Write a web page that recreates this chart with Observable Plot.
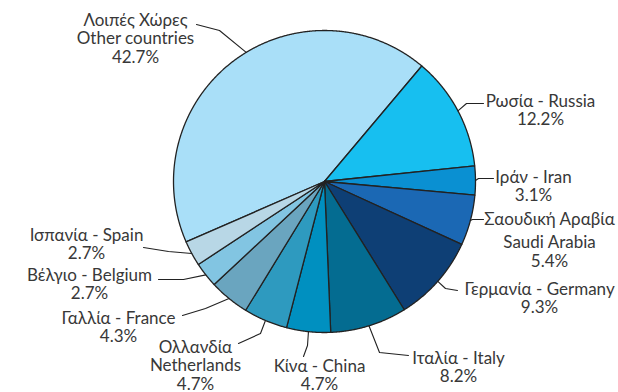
<!DOCTYPE html>
<html><head><meta charset="utf-8">
<script src="https://cdn.jsdelivr.net/npm/d3@7"></script>
<script src="https://cdn.jsdelivr.net/npm/@observablehq/plot@0.6"></script>
<style>
body{margin:0;background:#fff;}
#chart svg{font-family:Lato,"Noto Sans",sans-serif;}
</style>
</head><body><div id="chart"></div>
<script>
// ---- data ----
const names   = ["Other countries","Russia","Iran","Saudi Arabia","Germany","Italy","China","Netherlands","France","Belgium","Spain"];
const greek   = ["Λοιπές Χώρες","Ρωσία","Ιράν","Σαουδική Αραβία","Γερμανία","Ιταλία","Κίνα","Ολλανδία","Γαλλία","Βέλγιο","Ισπανία"];
const shares  = [42.7,12.2,3.1,5.4,9.3,8.2,4.7,4.7,4.3,2.7,2.7];
const stacked = [true,false,false,true,false,false,false,true,false,false,false]; // label on separate lines
// ---- styles / layout ----
const colors  = ["#a9dff8","#17bff0","#0a90d2","#1b68b4","#0e3f75","#046c91","#0090c0","#2e9abf","#6aa5bf","#82c5e2","#b8d7e6"];
const startDeg = -113.6;
const CX = 324, CY = 181, R = 151;
// label centre x, first-line y, extra gap after first line (pixels)
const labelPos = [[135,20,0],[540,101,0],[533,177,0],[549,219,5],[539,289,0],[458,358,0],[319,366,0],[195,347,0],[118,318,0],[89,275,0],[86,235,0]];
// leader start angle offset (deg), elbow and end (pixels)
const leaderOffset = [5.5,0,0,0,0,0,0,0,0,0,0];
const leaders = [[[219,30],[196,24]],[[466,103],[483,103]],[[478,178],[493,178]],[[472,219],[483,219]],[[445,288],[457,290]],
                 [[379,352],[408,355]],[[307,345],[303,356]],[[260,333],[238,343]],[[205,308],[182,315]],[[183,279],[158,279]],[[168,251],[143,247]]];
const LINE = 18.3;
const toX = p => (p - CX) / R, toY = p => (CY - p) / R;

const pie = d3.pie().sort(null).value(d => d)
  .startAngle(startDeg * Math.PI / 180).endAngle(startDeg * Math.PI / 180 + 2 * Math.PI)(shares);

const slicePts = [];
pie.forEach((a, i) => {
  slicePts.push({name: names[i], x: 0, y: 0});
  const n = Math.max(2, Math.ceil((a.endAngle - a.startAngle) / 0.005));
  for (let k = 0; k <= n; k++) {
    const t = a.startAngle + (a.endAngle - a.startAngle) * k / n;
    slicePts.push({name: names[i], x: Math.sin(t), y: Math.cos(t)});
  }
  slicePts.push({name: names[i], x: 0, y: 0});
});

const leaderPts = [];
pie.forEach((a, i) => {
  const m = (a.startAngle + a.endAngle) / 2 + leaderOffset[i] * Math.PI / 180;
  leaderPts.push({k: i, x: Math.sin(m), y: Math.cos(m)});
  leaders[i].forEach(p => leaderPts.push({k: i, x: toX(p[0]), y: toY(p[1])}));
});

const textRows = [];
names.forEach((n, i) => {
  const pct = shares[i].toFixed(1) + "%";
  const lines = stacked[i] ? [greek[i], n, pct] : [greek[i] + " - " + n, pct];
  const [lx, ly, gap] = labelPos[i];
  lines.forEach((t, j) => textRows.push({t, x: toX(lx), y: toY(ly + j * LINE + (j > 0 ? gap : 0))}));
});

const chart = Plot.plot({
  width: 618, height: 392,
  marginLeft: CX - R, marginRight: 618 - CX - R, marginTop: CY - R, marginBottom: 392 - CY - R,
  x: {domain: [-1, 1], axis: null},
  y: {domain: [-1, 1], axis: null},
  color: {domain: names, range: colors},
  marks: [
    Plot.line(slicePts, {x: "x", y: "y", z: "name", fill: "name", stroke: "#222", strokeWidth: 1.3, strokeLinejoin: "round"}),
    Plot.line(leaderPts, {x: "x", y: "y", z: "k", stroke: "#222", strokeWidth: 1.1}),
    Plot.text(textRows, {x: "x", y: "y", text: "t", fill: "#383838", fontSize: 17, textAnchor: "middle"})
  ]
});
document.getElementById("chart").appendChild(chart);
</script>
</body></html>
